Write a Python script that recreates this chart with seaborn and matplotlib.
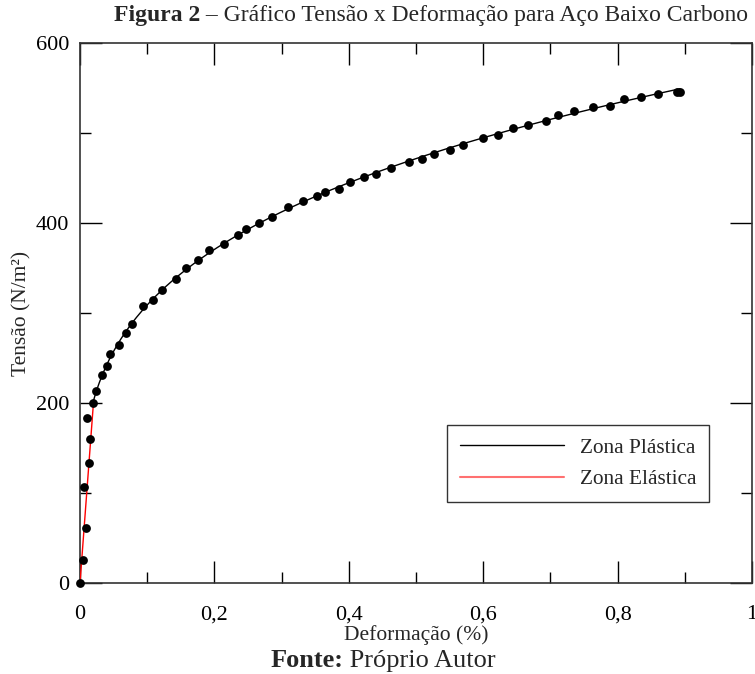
import numpy as np
import matplotlib
matplotlib.use("Agg")
import matplotlib.pyplot as plt
import seaborn as sns
import pandas as pd
from matplotlib.ticker import MultipleLocator, FuncFormatter
from matplotlib.lines import Line2D

# ---- data ----
strain = [0.0, 0.004, 0.009, 0.006, 0.014, 0.015, 0.011, 0.020, 0.024, 0.033, 0.040,
          0.045, 0.058, 0.068, 0.077, 0.094, 0.108, 0.122, 0.143, 0.157, 0.175,
          0.192, 0.214, 0.235, 0.247, 0.267, 0.285, 0.309, 0.332, 0.353, 0.365,
          0.386, 0.402, 0.422, 0.441, 0.463, 0.490, 0.509, 0.527, 0.550, 0.570,
          0.599, 0.622, 0.645, 0.667, 0.693, 0.711, 0.735, 0.764, 0.789, 0.810,
          0.835, 0.860, 0.888, 0.893]
stress = [0, 26, 61, 107, 133, 160, 183, 200, 213, 231, 241,
          255, 264, 278, 288, 308, 315, 326, 338, 350, 359,
          370, 377, 387, 393, 400, 407, 418, 424, 430, 435,
          438, 446, 451, 455, 461, 468, 471, 477, 481, 487,
          494, 498, 506, 509, 513, 520, 524, 529, 530, 538,
          540, 543, 546, 546]
elastic_strain = [0.0, 0.02]
elastic_stress = [0.0, 200.0]
yield_strain = 0.02

x_ticks = [0, 0.2, 0.4, 0.6, 0.8, 1.0]
y_ticks = [0, 200, 400, 600]

# ---- style ----
sns.set_theme(style="ticks")
plt.rcParams['font.family'] = ['Liberation Serif', 'DejaVu Serif']

fig = plt.figure(figsize=(7.55, 6.74), dpi=100)
ax = fig.add_axes([80/755, 1-583/674, 672/755, 540/674])

df = pd.DataFrame({"strain": strain, "stress": stress})

# plastic curve: power-law fit of the plastic points
s = np.array(strain); t = np.array(stress)
mask = s >= yield_strain
n, logK = np.polyfit(np.log(s[mask]), np.log(t[mask]), 1)
xs = np.linspace(yield_strain, s.max(), 300)
plastic = pd.DataFrame({"strain": xs, "stress": np.exp(logK) * xs**n})
elastic = pd.DataFrame({"strain": elastic_strain, "stress": elastic_stress})

sns.lineplot(data=plastic, x="strain", y="stress", ax=ax, color="black", lw=1.0,
             sort=False, zorder=2)
sns.lineplot(data=elastic, x="strain", y="stress", ax=ax, color="red", lw=1.0,
             sort=False, zorder=3)
sns.scatterplot(data=df, x="strain", y="stress", ax=ax, color="black", s=40,
                edgecolor="black", linewidth=0, zorder=4, clip_on=False)

ax.set_xlim(0, 1)
ax.set_ylim(0, 600)
ax.set_xticks(x_ticks)
ax.set_yticks(y_ticks)
ax.xaxis.set_minor_locator(MultipleLocator(0.1))
ax.yaxis.set_minor_locator(MultipleLocator(100))
ax.xaxis.set_major_formatter(FuncFormatter(lambda v, p: ("%g" % v).replace(".", ",")))
ax.tick_params(which="both", direction="in", top=True, right=True,
               colors="black", labelsize=16, width=1.0)
ax.tick_params(which="major", length=16)
ax.tick_params(which="minor", length=8)
ax.tick_params(axis="x", which="major", pad=16)
ax.tick_params(axis="y", which="major", pad=8)
for sp in ax.spines.values():
    sp.set_color("#333333")
    sp.set_linewidth(1.2)

ax.set_xlabel("Deformação (%)", fontsize=15.5, labelpad=0.5)
ax.set_ylabel("Tensão (N/m²)", fontsize=15.5, labelpad=3)

handles = [Line2D([0], [0], color="black", lw=1.0),
           Line2D([0], [0], color="#ff7070", lw=1.5)]
leg = ax.legend(handles, ["Zona Plástica", "Zona Elástica"], loc="lower right",
                bbox_to_anchor=(0.936, 0.15), borderaxespad=0, fontsize=15.3,
                frameon=True, fancybox=False, edgecolor="black", handlelength=4.9,
                borderpad=0.6, labelspacing=0.55, handletextpad=0.75)
leg.get_frame().set_linewidth(1.0)

# title with bold prefix
fig.canvas.draw()
r = fig.canvas.get_renderer()

def two_part(y_px, bold, rest, size, cx):
    t1 = fig.text(0, 1 - y_px/674, bold, fontsize=size, fontweight="bold", va="baseline")
    t2 = fig.text(0, 1 - y_px/674, rest, fontsize=size, va="baseline")
    w1 = t1.get_window_extent(r).width
    w2 = t2.get_window_extent(r).width
    x0 = cx - (w1 + w2) / 2
    t1.set_x(x0 / 755)
    t2.set_x((x0 + w1) / 755)

two_part(21, "Figura 2", " – Gráfico Tensão x Deformação para Aço Baixo Carbono", 17, 431)
two_part(667, "Fonte:", " Próprio Autor", 19, 383)

fig.savefig("out.png", dpi=100)
